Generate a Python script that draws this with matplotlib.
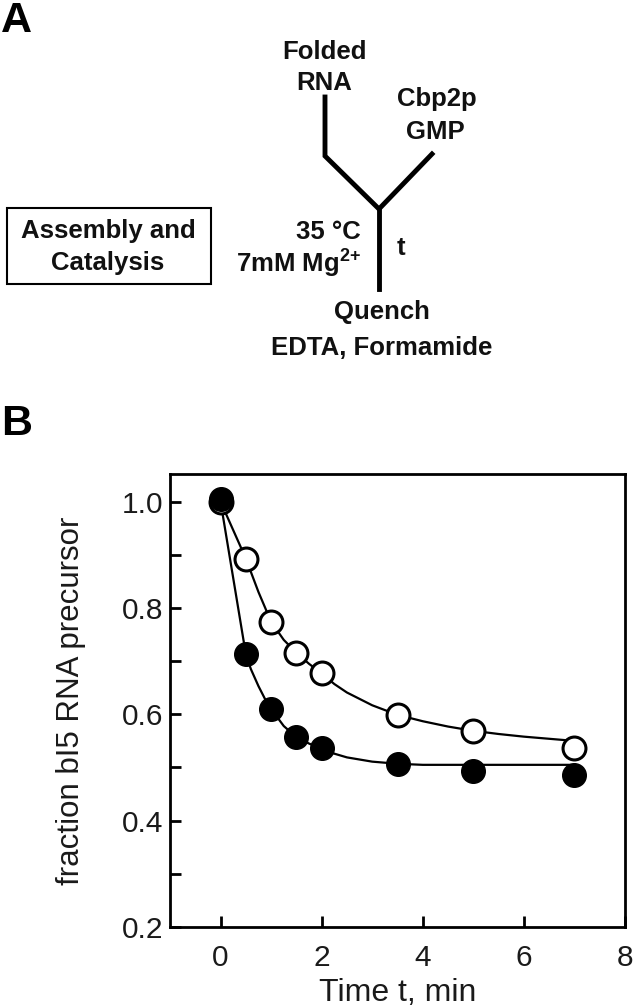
import matplotlib
matplotlib.use('Agg')
import matplotlib.pyplot as plt
from matplotlib.ticker import MultipleLocator

plt.rcParams['font.family'] = ['Liberation Sans', 'DejaVu Sans']
plt.rcParams['mathtext.fontset'] = 'custom'
plt.rcParams['mathtext.rm'] = 'Liberation Sans'
plt.rcParams['mathtext.bf'] = 'Liberation Sans:bold'

# data
tempo = [0, 0.5, 1, 1.5, 2, 3.5, 5, 7]
cheio = [1.005, 0.713, 0.610, 0.557, 0.537, 0.507, 0.494, 0.485]
vazio = [1.0, 0.893, 0.774, 0.716, 0.677, 0.599, 0.569, 0.536]

# fitted curves
curva_t_cheio = [0, 0.5, 0.6, 0.75, 0.9, 1, 1.25, 1.5, 1.75, 2, 2.25, 2.5, 3, 3.5, 4, 5, 7]
curva_cheio = [1.0, 0.713, 0.685, 0.653, 0.625, 0.61, 0.578, 0.557, 0.545, 0.535,
               0.526, 0.519, 0.511, 0.507, 0.505, 0.505, 0.505]
curva_t_vazio = [0, 0.5, 0.75, 1, 1.25, 1.5, 1.75, 2, 2.25, 2.5, 3, 3.5, 4, 4.5, 5,
                 5.5, 6, 6.5, 7]
curva_vazio = [1.0, 0.893, 0.83, 0.774, 0.74, 0.716, 0.695, 0.677, 0.657, 0.641, 0.617,
               0.599, 0.587, 0.577, 0.569, 0.563, 0.558, 0.554, 0.55]

xticks = [0, 2, 4, 6, 8]
yticks = [0.2, 0.4, 0.6, 0.8, 1.0]

fig = plt.figure(figsize=(6.34, 10.07), dpi=100)

# painel A - esquema (coordenadas em pixels)
a = fig.add_axes([0, 0, 1, 1])
a.set_xlim(0, 634)
a.set_ylim(1007, 0)
a.axis('off')
lw = 3.5
a.plot([325, 325, 379, 432], [97, 156, 209, 154], color='k', lw=lw, solid_joinstyle='miter')
a.plot([379, 379], [209, 289], color='k', lw=lw)
a.add_patch(plt.Rectangle((7, 208), 204, 76, fill=False, lw=1.5, ec='k'))

fs = 18.5
kw = dict(fontsize=fs, fontweight='bold', color='#111111')
a.text(324, 52, 'Folded', ha='center', va='center', **kw)
a.text(324, 83, 'RNA', ha='center', va='center', **kw)
a.text(437, 99, 'Cbp2p', ha='center', va='center', **kw)
a.text(435, 132, 'GMP', ha='center', va='center', **kw)
a.text(361, 232, '35 °C', ha='right', va='center', **kw)
a.text(361, 263, r'7mM Mg$^{\mathbf{2{+}}}$', ha='right', va='center', **kw)
a.text(401, 248, 't', ha='center', va='center', **kw)
a.text(382, 312, 'Quench', ha='center', va='center', **kw)
a.text(382, 348, 'EDTA, Formamide', ha='center', va='center', **kw)
a.text(108, 231, 'Assembly and', ha='center', va='center', **kw)
a.text(108, 263, 'Catalysis', ha='center', va='center', **kw)
a.text(1, 21, 'A', ha='left', va='center', fontsize=31, fontweight='bold')
a.text(1, 424, 'B', ha='left', va='center', fontsize=31, fontweight='bold')

# painel B - cinética
ax = fig.add_axes([170 / 634, 80 / 1007, 455 / 634, 453 / 1007])
ax.plot(curva_t_vazio, curva_vazio, color='k', lw=1.6, zorder=2)
ax.plot(curva_t_cheio, curva_cheio, color='k', lw=1.6, zorder=2)
ax.plot(tempo, vazio, 'o', ms=16.5, mfc='white', mec='k', mew=2.2, zorder=3)
ax.plot(tempo, cheio, 'o', ms=17, mfc='k', mec='k', mew=1, zorder=4)

ax.set_xlim(-1.0, 7.95)
ax.set_ylim(0.2, 1.052)
ax.set_xticks(xticks)
ax.set_yticks(yticks)
ax.set_yticklabels(['%.1f' % v for v in yticks])
ax.yaxis.set_minor_locator(MultipleLocator(0.1))
for s in ax.spines.values():
    s.set_linewidth(2)
ax.tick_params(which='both', direction='in', length=8, width=2, labelsize=21.5,
               labelcolor='#1a1a1a')
ax.tick_params(axis='y', pad=5)
ax.tick_params(axis='x', pad=12)
ax.set_xlabel('Time t, min', fontsize=23, color='#1a1a1a')
ax.set_ylabel('fraction bI5 RNA precursor', fontsize=22.5, color='#1a1a1a')
ax.xaxis.set_label_coords(0.5, -0.113)
ax.xaxis.label.set_va('top')
ax.yaxis.set_label_coords(-0.185, 0.5)

fig.savefig('out.png', dpi=100)
